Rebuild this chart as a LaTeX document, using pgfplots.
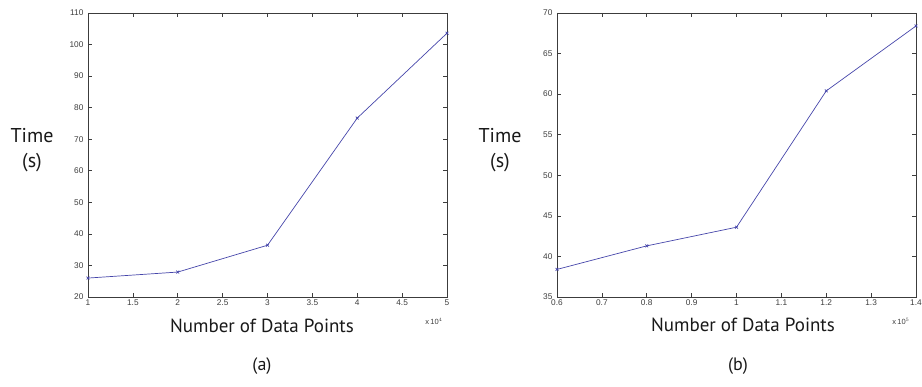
\documentclass[border=0pt]{standalone}
\usepackage{pgfplots}
\pgfplotsset{compat=1.18}
\usepackage{fontspec}
\setmainfont{Liberation Sans}
\newfontfamily\labfont{PT Sans}
\definecolor{lineblue}{RGB}{70,70,170}
\definecolor{axgray}{RGB}{60,60,60}
\pgfplotsset{
  myaxis/.style={
    scale only axis, anchor=south west,
    width=359pt, height=284pt,
    axis line style={axgray, line width=0.8pt},
    tick style={axgray, line width=0.6pt},
    tick align=inside, major tick length=4pt,
    xtick pos=both, ytick pos=both,
    scaled ticks=false,
    /pgf/number format/assume math mode=true,
    tick label style={font=\fontsize{8.3}{8.3}\selectfont, text=axgray},
    xticklabel style={yshift=1pt},
    yticklabel style={xshift=-1pt},
    clip=false,
  }
}
\begin{document}
\begin{tikzpicture}[x=1pt,y=1pt]
\path[use as bounding box] (0,0) rectangle (922,387);
\begin{axis}[myaxis, at={(88pt,90pt)},
  xmin=1, xmax=5, ymin=20, ymax=110,
  xtick={1,1.5,2,2.5,3,3.5,4,4.5,5},
  xticklabels={1,1.5,2,2.5,3,3.5,4,4.5,5},
  ytick={20,30,40,50,60,70,80,90,100,110}]
\addplot[lineblue, line width=0.7pt, mark=x, mark size=2pt] coordinates {
 (1,26.0) (2,27.9) (3,36.4) (4,76.7) (5,103.6)};
\end{axis}
\begin{axis}[myaxis, at={(557pt,90pt)},
  xmin=0.6, xmax=1.4, ymin=35, ymax=70,
  xtick={0.6,0.7,0.8,0.9,1,1.1,1.2,1.3,1.4},
  xticklabels={0.6,0.7,0.8,0.9,1,1.1,1.2,1.3,1.4},
  ytick={35,40,45,50,55,60,65,70}]
\addplot[lineblue, line width=0.7pt, mark=x, mark size=2pt] coordinates {
 (0.6,38.4) (0.8,41.3) (1.0,43.6) (1.2,60.4) (1.4,68.4)};
\end{axis}
% labels
\node[align=center, font=\labfont\fontsize{20}{25}\selectfont, text=black!90] at (32,237) {Time\\(s)};
\node[align=center, font=\labfont\fontsize{20}{25}\selectfont, text=black!90] at (500,237) {Time\\(s)};
\node[font=\labfont\fontsize{19}{22}\selectfont, text=black!90] at (262,61) {Number of Data Points};
\node[font=\labfont\fontsize{19}{22}\selectfont, text=black!90] at (743,62) {Number of Data Points};
\node[font=\labfont\fontsize{18}{20}\selectfont, text=black!90] at (262,21) {(a)};
\node[font=\labfont\fontsize{18}{20}\selectfont, text=black!90] at (738,21) {(b)};
\node[font=\fontsize{7.5}{8}\selectfont, text=axgray] at (434,66) {x\,10$^{4}$};
\node[font=\fontsize{7.5}{8}\selectfont, text=axgray] at (901,66) {x\,10$^{5}$};
\end{tikzpicture}
\end{document}
